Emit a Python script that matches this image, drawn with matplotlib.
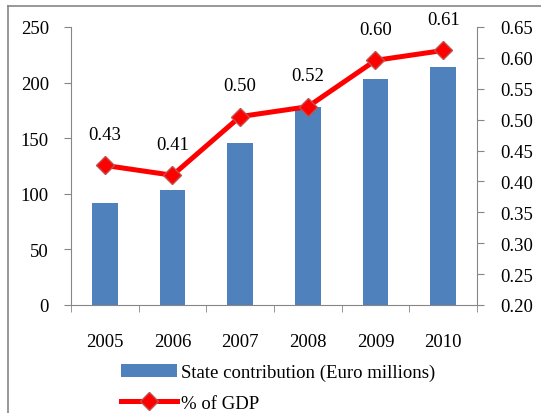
import matplotlib
matplotlib.use("Agg")
import matplotlib.pyplot as plt
from matplotlib.lines import Line2D
import numpy as np

years = ["2005", "2006", "2007", "2008", "2009", "2010"]
contribution = [92, 103, 146, 178, 203, 214]
gdp_pct = [0.426, 0.410, 0.505, 0.521, 0.596, 0.612]
gdp_labels = ["0.43", "0.41", "0.50", "0.52", "0.60", "0.61"]

plt.rcParams['font.family'] = ['Liberation Serif', 'DejaVu Serif']
plt.rcParams['font.size'] = 13.5

W, H = 541, 414
fig = plt.figure(figsize=(W / 100, H / 100), dpi=100)
ax = fig.add_axes([71 / W, 1 - 306 / H, (477 - 71) / W, (306 - 28) / H])
ax2 = ax.twinx()

x = np.arange(len(years))
bars = ax.bar(x, contribution, width=0.38, color="#4F81BD", zorder=2,
              label="State contribution (Euro millions)")
ax.set_xlim(-0.5, len(years) - 0.5)
ax.set_ylim(0, 250)
ax.set_yticks(np.arange(0, 251, 50))
ax.set_xticks(x)
ax.set_xticklabels(years)
ax.set_xticks(np.arange(-0.5, len(years), 1), minor=True)
ax.tick_params(axis="x", which="major", length=0, pad=20)
ax.tick_params(axis="x", which="minor", length=5, direction="out", color="#868686")
ax.tick_params(axis="y", length=5, direction="out", color="#868686", pad=11)

line, = ax2.plot(x, gdp_pct, color="#FF0000", lw=3.6, marker="D", markersize=9.5,
                 markerfacecolor="#FF0000", markeredgecolor="#C0504D",
                 markeredgewidth=1, zorder=3, label="% of GDP")
ax2.set_ylim(0.20, 0.65)
ax2.set_yticks(np.arange(0.20, 0.651, 0.05))
ax2.set_yticklabels([f"{v:.2f}" for v in np.arange(0.20, 0.651, 0.05)])
ax2.tick_params(axis="y", length=5, direction="out", color="#868686", pad=12)
for xi, yi, lab in zip(x, gdp_pct, gdp_labels):
    ax2.annotate(lab, (xi, yi), xytext=(0, 16), textcoords="offset points",
                 ha="center", va="bottom")

for a in (ax, ax2):
    a.spines["top"].set_visible(False)
    for s in ("left", "right", "bottom"):
        a.spines[s].set_color("#868686")
ax.spines["right"].set_visible(False)
ax2.spines["left"].set_visible(False)
ax2.spines["bottom"].set_visible(False)

fig.legend(handles=[bars, line], loc="upper left",
           bbox_to_anchor=(121 / W, 1 - 365 / H), frameon=False,
           handlelength=3.0, handletextpad=0.2, labelspacing=0.72,
           borderaxespad=0, borderpad=0)

# outer chart border (left and top visible)
fig.add_artist(Line2D([8 / W, 8 / W], [0, 1 - 7 / H], color="#868686", lw=1.2,
                      transform=fig.transFigure))
fig.add_artist(Line2D([8 / W, 1], [1 - 7 / H, 1 - 7 / H], color="#868686", lw=1.2,
                      transform=fig.transFigure))

fig.savefig("out.png", dpi=100)
